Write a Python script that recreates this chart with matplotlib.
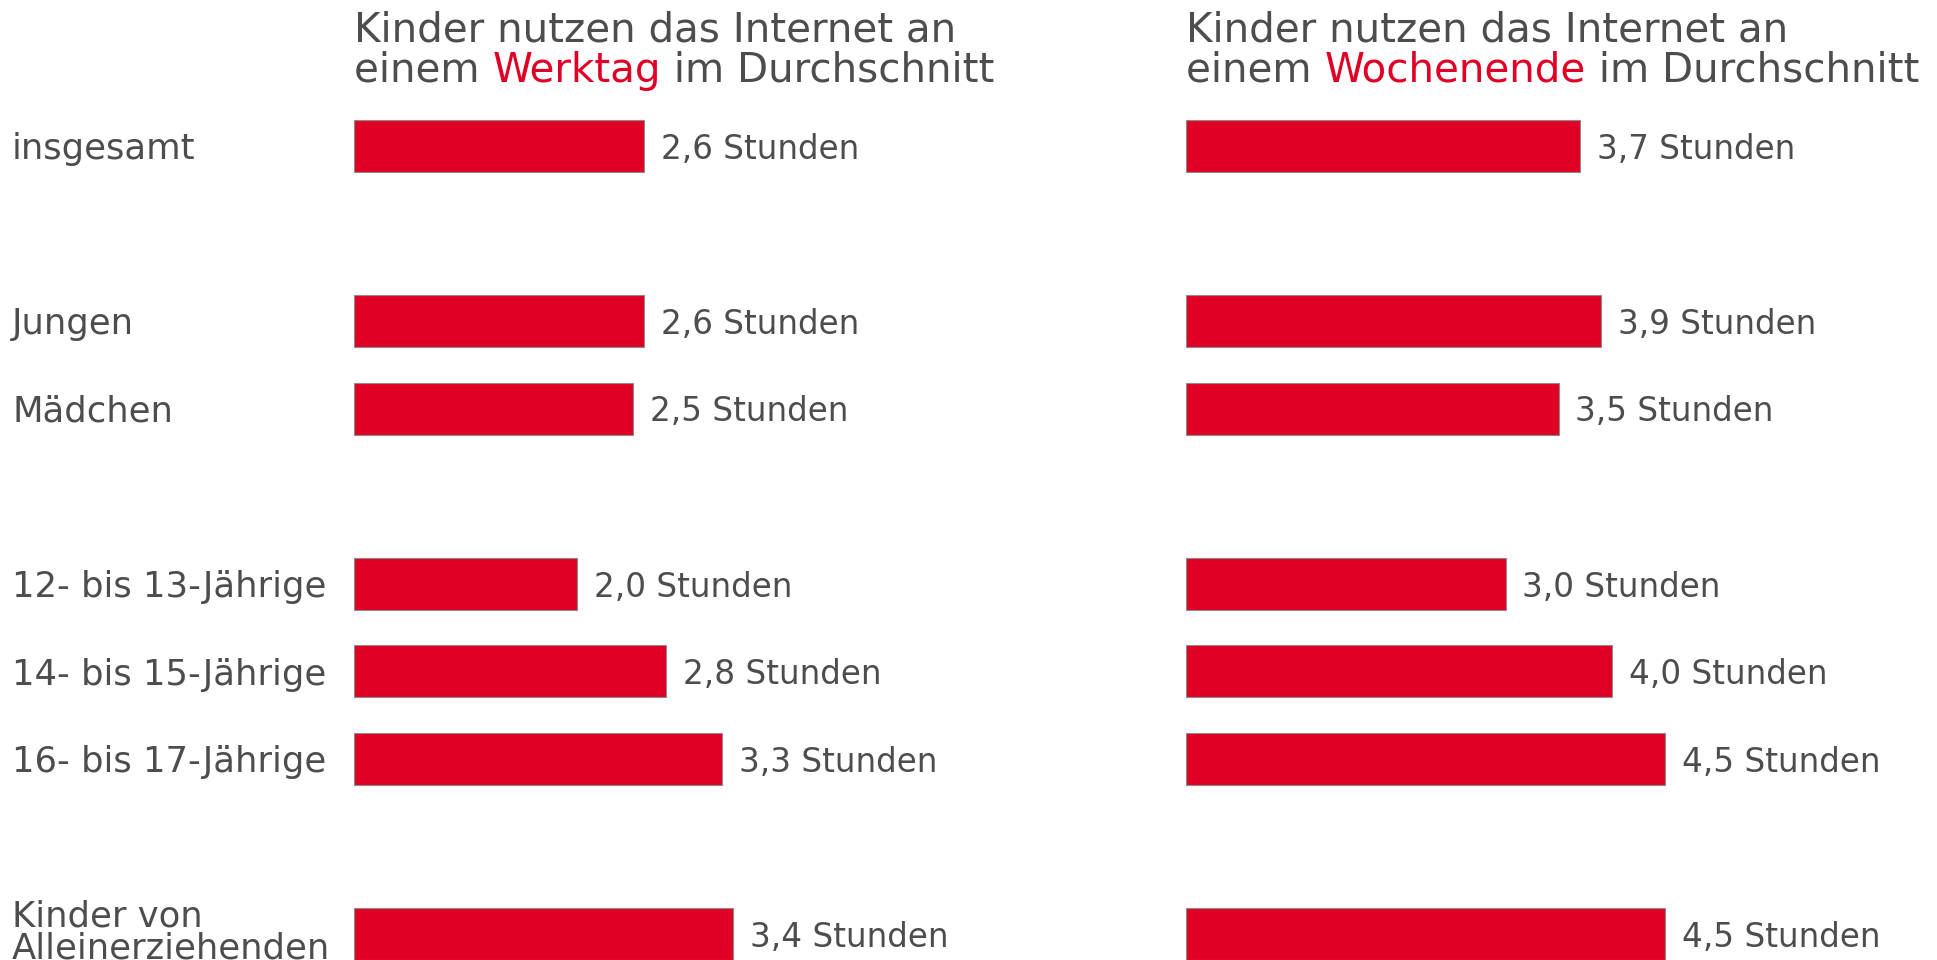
import matplotlib
matplotlib.use("Agg")
import matplotlib.pyplot as plt
import matplotlib.transforms as mtransforms

categories = ["insgesamt", "Jungen", "Mädchen", "12- bis 13-Jährige",
              "14- bis 15-Jährige", "16- bis 17-Jährige", "Kinder von\nAlleinerziehenden"]
row_pos = [0, 2, 3, 5, 6, 7, 9]
werktag = [2.6, 2.6, 2.5, 2.0, 2.8, 3.3, 3.4]
wochenende = [3.7, 3.9, 3.5, 3.0, 4.0, 4.5, 4.5]
unit = "Stunden"

RED = "#E10025"
GREY = "#4D4D4D"
W, H = 1937, 960
plt.rcParams['font.family'] = ['DejaVu Sans']
fig = plt.figure(figsize=(W / 100, H / 100), dpi=100)

row_px0, row_step = 145.8, 87.57
ytop = -row_px0 / row_step
ybot = (H - row_px0) / row_step
TITLE_FS = 29.1
LABEL_FS = 25.5
VALUE_FS = 23.5


def make_panel(x0_px, x1_px, px_per_unit, values, highlight):
    ax = fig.add_axes([x0_px / W, 0, (x1_px - x0_px) / W, 1])
    ax.set_xlim(0, (x1_px - x0_px) / px_per_unit)
    ax.set_ylim(ybot, ytop)
    ax.axis("off")
    ax.barh(row_pos, values, height=0.594, color=RED, edgecolor="#8C8C8C", linewidth=0.8)
    for p, v in zip(row_pos, values):
        ax.annotate(f"{v:.1f}".replace(".", ",") + " " + unit, xy=(v, p), xytext=(12.0, -2.5),
                    textcoords="offset points", va="center", ha="left",
                    fontsize=VALUE_FS, color=GREY)
    fig.text(x0_px / W, 1 - 41 / H, "Kinder nutzen das Internet an",
             fontsize=TITLE_FS, color=GREY, va="baseline", ha="left")
    a = fig.text(x0_px / W, 1 - 82 / H, "einem ", fontsize=TITLE_FS, color=GREY,
                 va="baseline", ha="left")
    return ax, a, highlight


ax1, a1, h1 = make_panel(354, 1186, 111.6, werktag, "Werktag")
ax2, a2, h2 = make_panel(1186, 1937, 106.5, wochenende, "Wochenende")

# category labels
base_tr = mtransforms.blended_transform_factory(fig.transFigure, ax1.transData)
for c, p in zip(categories, row_pos):
    dy = -2.5 if "\n" not in c else 1.0
    tr = mtransforms.offset_copy(base_tr, fig=fig, x=0, y=dy, units="points")
    fig.text(12 / W, p, c, transform=tr, fontsize=LABEL_FS, color=GREY, va="center",
             ha="left", linespacing=0.95)

# position title pieces sequentially
fig.canvas.draw()
r = fig.canvas.get_renderer()
for a, h in [(a1, h1), (a2, h2)]:
    ea = a.get_window_extent(r)
    y = a.get_position()[1]
    bt = fig.text(ea.x1 / W, y, h, fontsize=TITLE_FS, color=RED, va="baseline", ha="left")
    fig.canvas.draw()
    eb = bt.get_window_extent(r)
    fig.text(eb.x1 / W, y, " im Durchschnitt", fontsize=TITLE_FS, color=GREY,
             va="baseline", ha="left")

fig.savefig("out.png", dpi=100)
